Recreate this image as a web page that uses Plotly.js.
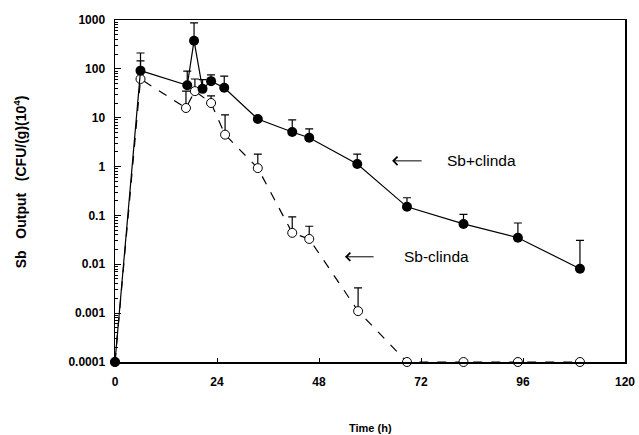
<!DOCTYPE html>
<html>
<head>
<meta charset="utf-8">
<script src="https://cdn.plot.ly/plotly-3.0.1.min.js"></script>
<style>html,body{margin:0;padding:0;background:#fff;}#chart{width:639px;height:435px;}</style>
</head>
<body>
<div id="chart"></div>
<script>
// Sb + clindamycin (filled circles, solid line)
const timePlus = [0, 6, 17, 18.6, 20.6, 22.6, 25.7, 33.6, 41.7, 45.7, 57, 68.7, 82, 94.8, 109.4];
const valPlus  = [0.0001, 92, 46, 377, 39, 56, 41, 9.4, 5.1, 3.9, 1.13, 0.15, 0.067, 0.035, 0.0081];
const topPlus  = [0.0001, 211, 90, 870, 60, 75, 71, 9.4, 9, 5.9, 1.8, 0.23, 0.105, 0.07, 0.031];

// Sb - clindamycin (open circles, dashed line)
const timeMinus = [0, 6, 16.7, 18.8, 22.6, 25.9, 33.6, 41.7, 45.7, 57.2, 68.7, 82, 94.8, 109.4];
const valMinus  = [0.0001, 62, 15.8, 35, 20, 4.5, 0.93, 0.044, 0.033, 0.0011, 0.0001, 0.0001, 0.0001, 0.0001];
const topMinus  = [0.0001, 145, 35, 62, 28, 11.4, 1.8, 0.093, 0.06, 0.0033, 0.0001, 0.0001, 0.0001, 0.0001];

const yTickVals = [0.0001, 0.001, 0.01, 0.1, 1, 10, 100, 1000];
const yTickText = ['0.0001', '0.001', '0.01', '0.1', '1', '10', '100', '1000'];
const xTickVals = [0, 24, 48, 72, 96, 120];

const yTitle = 'Sb\u00A0\u00A0\u00A0Output\u00A0\u00A0\u00A0(CFU/(g)(10<sup>4</sup>)';
const xTitle = 'Time (h)';
const labelPlus = 'Sb+clinda';
const labelMinus = 'Sb-clinda';

function plusErr(v, t) { return v.map((x, i) => Math.max(0, t[i] - x)); }

const traces = [
  {
    x: timeMinus, y: valMinus, type: 'scatter', mode: 'lines+markers',
    line: {color: 'black', width: 1.2, dash: 'dash'},
    marker: {symbol: 'circle', size: 9, color: 'white', line: {color: 'black', width: 1}},
    error_y: {type: 'data', symmetric: false, array: plusErr(valMinus, topMinus),
              arrayminus: valMinus.map(() => 0), color: 'black', thickness: 1.2, width: 4},
    showlegend: false, cliponaxis: false
  },
  {
    x: timePlus, y: valPlus, type: 'scatter', mode: 'lines+markers',
    line: {color: 'black', width: 1.2},
    marker: {symbol: 'circle', size: 10, color: 'black'},
    error_y: {type: 'data', symmetric: false, array: plusErr(valPlus, topPlus),
              arrayminus: valPlus.map(() => 0), color: 'black', thickness: 1.2, width: 4},
    showlegend: false, cliponaxis: false
  }
];

const tickFont = {size: 12, family: 'Liberation Sans, Arial, sans-serif', weight: 'bold'};

const layout = {
  width: 639, height: 435,
  margin: {l: 115, r: 14, t: 20, b: 73},
  paper_bgcolor: 'white', plot_bgcolor: 'white',
  font: {family: 'Liberation Sans, Arial, sans-serif', color: 'black'},
  xaxis: {
    range: [0, 120], tickvals: xTickVals, ticktext: xTickVals.map(String),
    ticks: 'inside', ticklen: 4, tickcolor: 'black',
    showline: true, linecolor: 'black', linewidth: 1.5, mirror: true,
    showgrid: false, zeroline: false,
    tickfont: tickFont, ticklabelstandoff: 8
  },
  yaxis: {
    type: 'log', range: [-4, 3], tickvals: yTickVals, ticktext: yTickText,
    ticks: 'inside', ticklen: 6, tickcolor: 'black',
    minor: {ticks: 'inside', ticklen: 3, tickcolor: 'black', dtick: 'D1', showgrid: false},
    showline: true, linecolor: 'black', linewidth: 1.5, mirror: true,
    showgrid: false, zeroline: false,
    tickfont: tickFont, ticklabelstandoff: 6
  },
  annotations: [
    {x: -0.186, y: 0.526, xref: 'paper', yref: 'paper', textangle: -90,
     text: '<b>' + yTitle + '</b>', showarrow: false,
     xanchor: 'center', yanchor: 'middle', font: {size: 14}},
    {x: 0.5, y: -0.193, xref: 'paper', yref: 'paper',
     text: '<b>' + xTitle + '</b>', showarrow: false,
     xanchor: 'center', yanchor: 'middle', font: {size: 11}},
    {x: 65.2, y: 0.117, xref: 'x', yref: 'y', ax: 72.5, ay: 0.117, axref: 'x', ayref: 'y',
     text: '', showarrow: true, arrowhead: 4, arrowsize: 1.6, arrowwidth: 1, arrowcolor: 'black'},
    {x: 77.6, y: 0.117, xref: 'x', yref: 'y', text: labelPlus, showarrow: false,
     xanchor: 'left', font: {size: 15.5}},
    {x: 54.1, y: -1.847, xref: 'x', yref: 'y', ax: 61.2, ay: -1.847, axref: 'x', ayref: 'y',
     text: '', showarrow: true, arrowhead: 4, arrowsize: 1.6, arrowwidth: 1, arrowcolor: 'black'},
    {x: 67.5, y: -1.847, xref: 'x', yref: 'y', text: labelMinus, showarrow: false,
     xanchor: 'left', font: {size: 15.5}}
  ]
};

Plotly.newPlot('chart', traces, layout, {displayModeBar: false, staticPlot: true});
</script>
</body>
</html>
